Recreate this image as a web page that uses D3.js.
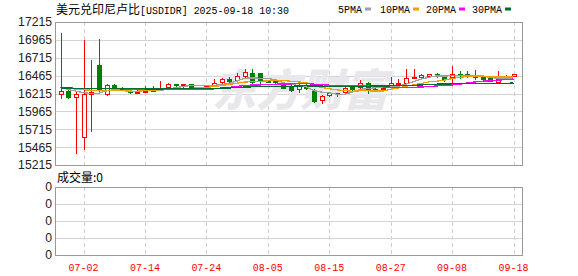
<!DOCTYPE html>
<html><head><meta charset="utf-8">
<script src="https://cdn.jsdelivr.net/npm/d3@7"></script>
<style>body{margin:0;background:#fff}svg{display:block}</style>
</head><body><svg id="c" width="578" height="276"></svg>
<script>
const dates=["06-27","06-30","07-01","07-02","07-03","07-04","07-07","07-08","07-09","07-10","07-11","07-14","07-15","07-16","07-17","07-18","07-21","07-22","07-23","07-24","07-25","07-28","07-29","07-30","07-31","08-01","08-04","08-05","08-06","08-07","08-08","08-11","08-12","08-13","08-14","08-15","08-18","08-19","08-20","08-21","08-22","08-25","08-26","08-27","08-28","08-29","09-01","09-02","09-03","09-04","09-05","09-08","09-09","09-10","09-11","09-12","09-15","09-16","09-17","09-18"];
const opens=[16204,16250,16166,15602,16208,16614,16204,16334,16288,16254,16235,16236,16250,16274,16302,16348,16334,16348,16288,16302,16320,16369,16414,16404,16463,16497,16497,16390,16394,16344,16324,16274,16324,16264,16124,16194,16208,16232,16302,16310,16366,16254,16278,16324,16348,16366,16436,16450,16460,16483,16474,16442,16488,16488,16460,16442,16428,16380,16425,16464];
const highs=[17065,16264,16250,16963,16683,16977,16348,16341,16300,16260,16264,16320,16324,16390,16355,16348,16350,16350,16310,16330,16414,16428,16450,16497,16553,16553,16500,16397,16418,16358,16358,16344,16348,16278,16194,16226,16226,16302,16320,16404,16380,16290,16300,16450,16414,16553,16553,16488,16490,16497,16474,16600,16530,16530,16544,16460,16432,16523,16480,16490];
const lows=[16156,16156,15387,15435,15695,16218,16190,16278,16265,16225,16225,16230,16250,16274,16295,16310,16310,16305,16280,16295,16315,16358,16372,16394,16450,16366,16344,16370,16358,16288,16254,16240,16278,16100,16082,16180,16180,16218,16254,16288,16218,16245,16270,16310,16320,16348,16428,16414,16442,16450,16394,16334,16432,16442,16418,16404,16385,16366,16418,16464];
const closes=[16250,16170,16208,16204,16236,16278,16334,16288,16280,16232,16240,16250,16258,16288,16348,16334,16348,16310,16302,16324,16358,16414,16394,16460,16516,16380,16390,16376,16380,16296,16264,16320,16288,16117,16180,16218,16218,16288,16274,16366,16264,16278,16290,16366,16366,16436,16450,16470,16488,16464,16418,16488,16474,16468,16442,16422,16390,16414,16460,16488];
const priorCloses=[16290,16280,16275,16285,16300,16310,16295,16280,16270,16285,16300,16290,16275,16280,16295,16300,16310,16305,16295,16300,16310,16320,16305,16300,16295,16310,16320,16315,16300];
const yTicks=[15215,15465,15715,15965,16215,16465,16715,16965,17215];
const xTickLabels=["07-02","07-14","07-24","08-05","08-15","08-27","09-08","09-18"];
const volTicks=["0","0","0","0","0"];
const maNames=["5PMA","10PMA","20PMA","30PMA"];
const maPeriods=[5,10,20,30];
const maColors=["#a0a0a0","#f0a000","#ff00ff","#006c30"];
const upColor="#ff0000", downColor="#008000";

const svg=d3.select("#c");
const L=55,R=522,T=22,B=165,VT=187,VB=255;
const x=d3.scalePoint().domain(dates).range([60.5,513.5]);
const y=d3.scaleLinear().domain([15215,17215]).range([B,T]);
const vy=d3.scaleLinear().domain([0,volTicks.length-1]).range([VB,VT]);
const px=v=>Math.round(v)+0.5;

// title
svg.append("text").attr("x",56).attr("y",14).attr("font-family","Noto Sans CJK SC").attr("font-size",12).attr("fill","#000").text("美元兑印尼卢比");
svg.append("text").attr("x",140).attr("y",14).attr("font-family","Liberation Mono").attr("font-size",11).attr("textLength",149).attr("lengthAdjust","spacingAndGlyphs").attr("fill","#000").text("[USDIDR] 2025-09-18 10:30");
// legend
const legX=[338,380,426,472];
maNames.forEach((n,i)=>{
  const w=n.length*6;
  svg.append("text").attr("x",legX[i]).attr("y",13).attr("font-family","Liberation Mono").attr("font-size",10.5).attr("textLength",w).attr("lengthAdjust","spacingAndGlyphs").attr("fill","#000").text(n);
  svg.append("rect").attr("x",legX[i]+w+3).attr("y",7.5).attr("width",6).attr("height",3).attr("fill",maColors[i]);
});

// grid main
const g=svg.append("g").attr("shape-rendering","crispEdges");
yTicks.forEach(v=>{
  g.append("line").attr("x1",L).attr("x2",R).attr("y1",px(y(v))).attr("y2",px(y(v))).attr("stroke","#d4d4d4");
  svg.append("text").attr("x",52).attr("y",y(v)).attr("dy","0.36em").attr("text-anchor","end").attr("font-family","Liberation Sans").attr("font-size",12.2).attr("fill","#222").text(v);
});
xTickLabels.forEach(d=>{
  g.append("line").attr("x1",px(x(d))).attr("x2",px(x(d))).attr("y1",T).attr("y2",B).attr("stroke","#cfcfcf").attr("stroke-dasharray","4,3");
  g.append("line").attr("x1",px(x(d))).attr("x2",px(x(d))).attr("y1",VT).attr("y2",VB).attr("stroke","#cfcfcf").attr("stroke-dasharray","4,3");
  svg.append("text").attr("x",x(d)).attr("y",271).attr("text-anchor","middle").attr("font-family","Liberation Mono").attr("font-size",11).attr("textLength",30).attr("lengthAdjust","spacingAndGlyphs").attr("fill","#ff0000").text(d);
});
// volume grid
volTicks.forEach((t,i)=>{
  g.append("line").attr("x1",L).attr("x2",R).attr("y1",px(vy(i))).attr("y2",px(vy(i))).attr("stroke","#d4d4d4");
  svg.append("text").attr("x",52).attr("y",vy(i)).attr("dy","0.36em").attr("text-anchor","end").attr("font-family","Liberation Sans").attr("font-size",12.2).attr("fill","#222").text(t);
});
svg.append("text").attr("x",57).attr("y",182).attr("font-family","Noto Sans CJK SC").attr("font-size",12).attr("fill","#000").text("成交量:0");

// watermark
svg.append("text").attr("x",300).attr("y",106).attr("text-anchor","middle").attr("font-family","Noto Sans CJK SC").attr("font-weight",900).attr("font-style","italic").attr("font-size",44).attr("fill","#e8e8ec").text("东方财富");

// candles
const cg=svg.append("g").attr("shape-rendering","crispEdges");
dates.forEach((d,i)=>{
  const up=closes[i]>=opens[i];
  const col=up?upColor:downColor;
  const cx=Math.round(x(d));
  cg.append("line").attr("x1",cx+0.5).attr("x2",cx+0.5).attr("y1",Math.round(y(highs[i]))).attr("y2",Math.round(y(lows[i]))+1).attr("stroke",col);
  const yt=Math.round(y(Math.max(opens[i],closes[i]))), yb=Math.round(y(Math.min(opens[i],closes[i])));
  cg.append("rect").attr("x",cx-2+0.5).attr("y",yt+0.5).attr("width",4).attr("height",Math.max(yb-yt,1)).attr("fill",up?"#fff":col).attr("stroke",col);
});

// moving averages
const all=priorCloses.concat(closes), off=priorCloses.length;
maPeriods.forEach((p,k)=>{
  const vals=closes.map((c,i)=>d3.mean(all.slice(off+i-p+1,off+i+1)));
  const line=d3.line().x((v,i)=>x(dates[i])).y(v=>y(v));
  svg.append("path").attr("d",line(vals)).attr("fill","none").attr("stroke",maColors[k]).attr("stroke-width",1.3).attr("shape-rendering","crispEdges");
});

// frames
svg.append("rect").attr("x",L+0.5).attr("y",T+0.5).attr("width",R-L).attr("height",B-T).attr("fill","none").attr("stroke","#999").attr("shape-rendering","crispEdges");
svg.append("rect").attr("x",L+0.5).attr("y",VT+0.5).attr("width",R-L).attr("height",VB-VT).attr("fill","none").attr("stroke","#999").attr("shape-rendering","crispEdges");
</script></body></html>
